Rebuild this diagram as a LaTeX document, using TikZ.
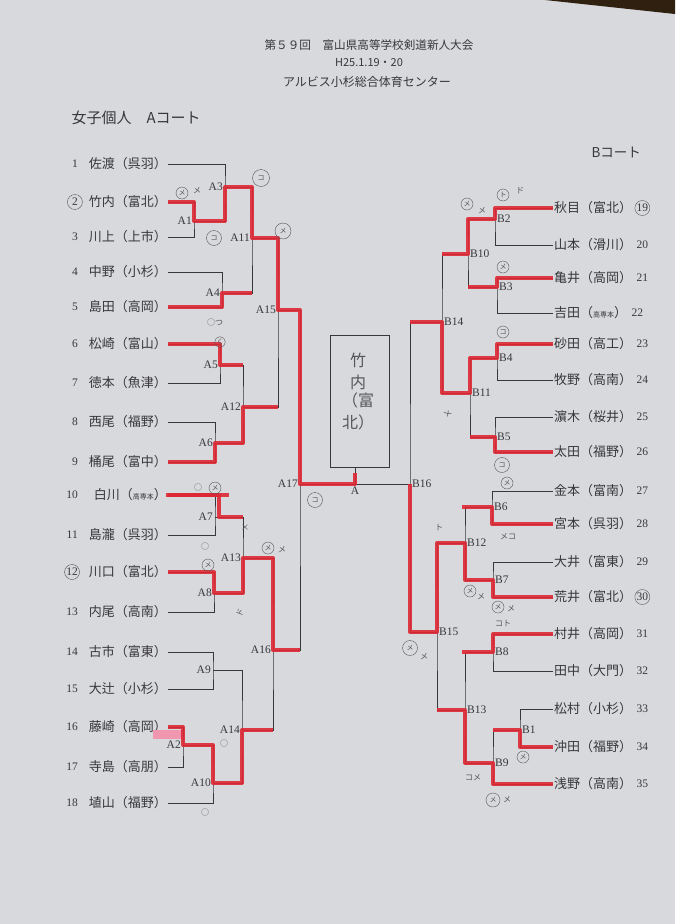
\documentclass[tikz,border=0pt]{standalone}
\usepackage{fontspec}
\setmainfont{Liberation Serif}
\newfontfamily\jp{Noto Sans CJK JP}
\usepackage{tikz}
\definecolor{paper}{RGB}{216,217,220}
\definecolor{ink}{RGB}{55,55,60}
\definecolor{pencil}{RGB}{85,85,90}
\definecolor{marker}{RGB}{222,40,52}
\definecolor{pinkmark}{RGB}{240,150,175}
\tikzset{bline/.style={draw=ink, line width=0.6pt},
  win/.style={draw=marker, line width=4pt, opacity=0.9, line join=round},
  entry/.style={font=\jp\fontsize{13}{14}\selectfont, text=ink, inner sep=1pt},
  num/.style={font=\fontsize{11.5}{12}\selectfont, text=ink, inner sep=1pt},
  mlab/.style={font=\fontsize{11.5}{12}\selectfont, text=ink, inner sep=1pt},
  head/.style={font=\jp\fontsize{11.6}{13}\selectfont, text=ink},
  note/.style={font=\jp\fontsize{8}{9}\selectfont, text=pencil, inner sep=0pt},
  pmark/.style={circle, draw=pencil, thin, inner sep=0.5pt, minimum size=12pt,
    font=\jp\fontsize{7}{7}\selectfont, text=pencil}
}
\begin{document}
\begin{tikzpicture}[x=1pt,y=-1pt]
    \fill[paper] (0,0) rectangle (675,924);
    \useasboundingbox (0,0) rectangle (675,924);
    \fill[black!75!brown] (545,0) -- (675,0) -- (675,14) -- cycle;
    % heading
    \node[head] (title) at (369,45) {第５９回　富山県高等学校剣道新人大会};
    \node[head, font=\jp\fontsize{11}{12}\selectfont] (date) at (369,63) {H25.1.19・20};
    \node[head, font=\jp\fontsize{12}{13}\selectfont] (hall) at (367,82) {アルビス小杉総合体育センター};
    \node[head, font=\jp\fontsize{15}{16}\selectfont, anchor=west] (courtA) at (68,118) {女子個人　Aコート};
    \node[head, font=\jp\fontsize{13.5}{14}\selectfont, anchor=west] (courtB) at (588,152) {Bコート};
    % entries
    \foreach \i/\y/\t in {1/164/佐渡（呉羽）, 2/202/竹内（富北）, 3/237/川上（上市）,
        4/272/中野（小杉）, 5/307/島田（高岡）, 6/344/松崎（富山）, 7/383/徳本（魚津）,
        8/422/西尾（福野）, 9/462/桶尾（富中）, 10/495/{白川（{\fontsize{7}{8}\selectfont 高専本}）},
        11/535/島瀧（呉羽）, 12/572/川口（富北）, 13/612/内尾（高南）, 14/652/古市（富東）,
        15/689/大辻（小杉）, 16/727/藤崎（高岡）, 17/767/寺島（高朋）, 18/803/埴山（福野）} {
      \node[entry, anchor=east] (l\i) at (168,\y) {\t};
      \node[num, anchor=east] (n\i) at (79,\y) {\i};
    }
    \foreach \i/\y/\t in {19/208/秋目（富北）, 20/245/山本（滑川）, 21/278/亀井（高岡）,
        22/313/{吉田（{\fontsize{7}{8}\selectfont 高専本}）}, 23/344/砂田（高工）, 24/380/牧野（高南）,
        25/417/濵木（桜井）, 26/452/太田（福野）, 27/491/金本（富南）, 28/524/宮本（呉羽）,
        29/562/大井（富東）, 30/597/荒井（富北）, 31/634/村井（高岡）, 32/671/田中（大門）,
        33/709/松村（小杉）, 34/747/沖田（福野）, 35/784/浅野（高南）} {
      \node[entry, anchor=west] (r\i) at (553,\y) {\t};
      \node[num, anchor=west] (n\i) at ([xshift=2pt]r\i.east) {\i};
    }
    % match points
    \foreach \m/\x/\y in {A1/194/221, A3/225/187, A4/222/293, A11/252/238, A5/220/365,
        A6/215/443, A12/243/407, A15/278/310, A7/215/517, A8/214/593, A13/243/558,
        A9/213/670, A2/183/745, A10/213/783, A14/242/730, A16/273/650, A17/300/484} {
      \coordinate (\m) at (\x,\y);
      \node[mlab, anchor=east] at ([xshift=-1pt]\m) {\m};
    }
    \foreach \m/\x/\y in {B2/495/219, B3/497/287, B10/468/254, B4/497/358, B5/495/437,
        B11/470/393, B14/442/322, B6/492/507, B7/493/580, B12/465/543, B8/493/652,
        B1/520/730, B9/493/763, B13/465/710, B15/437/632, B16/410/484} {
      \coordinate (\m) at (\x,\y);
      \node[mlab, anchor=west] at ([xshift=1pt]\m) {\m};
    }
    \coordinate (fin) at (355,484);
    \node[mlab, anchor=north] at ([yshift=-2pt]fin) {A};
    % champion box
    \node[bline, minimum width=59pt, minimum height=132pt, inner sep=0pt] (champ) at (359.5,401) {};
    \node[note, font=\jp\fontsize{16}{22}\selectfont, align=center] (champname) at (358,392)
      {竹\\内\\[-4pt]（富\\北）};
    % bracket, A court
    \draw[bline] (l1.east) -| (A3) |- (A1);
    \draw[bline] (l2.east) -| (A1) |- (l3.east);
    \draw[bline] (l4.east) -| (A4) |- (l5.east);
    \draw[bline] (A3) -| (A11) |- (A4);
    \draw[bline] (l6.east) -| (A5) |- (l7.east);
    \draw[bline] (l8.east) -| (A6) |- (l9.east);
    \draw[bline] (A5) -| (A12) |- (A6);
    \draw[bline] (A11) -| (A15) |- (A12);
    \draw[bline] (l10.east) -| (A7) |- (l11.east);
    \draw[bline] (l12.east) -| (A8) |- (l13.east);
    \draw[bline] (A7) -| (A13) |- (A8);
    \draw[bline] (l14.east) -| (A9) |- (l15.east);
    \draw[bline] (l16.east) -| (A2) |- (l17.east);
    \draw[bline] (A2) -| (A10) |- (l18.east);
    \draw[bline] (A9) -| (A14) |- (A10);
    \draw[bline] (A13) -| (A16) |- (A14);
    \draw[bline] (A15) -| (A17) |- (A16);
    % bracket, B court
    \draw[bline] (r19.west) -| (B2) |- (r20.west);
    \draw[bline] (r21.west) -| (B3) |- (r22.west);
    \draw[bline] (B2) -| (B10) |- (B3);
    \draw[bline] (r23.west) -| (B4) |- (r24.west);
    \draw[bline] (r25.west) -| (B5) |- (r26.west);
    \draw[bline] (B4) -| (B11) |- (B5);
    \draw[bline] (B10) -| (B14) |- (B11);
    \draw[bline] (r27.west) -| (B6) |- (r28.west);
    \draw[bline] (r29.west) -| (B7) |- (r30.west);
    \draw[bline] (B6) -| (B12) |- (B7);
    \draw[bline] (r31.west) -| (B8) |- (r32.west);
    \draw[bline] (r33.west) -| (B1) |- (r34.west);
    \draw[bline] (B1) -| (B9) |- (r35.west);
    \draw[bline] (B8) -| (B13) |- (B9);
    \draw[bline] (B12) -| (B15) |- (B13);
    \draw[bline] (B14) -| (B16) |- (B15);
    % final
    \draw[bline] (A17) -- (B16);
    \draw[bline] (fin) -- (champ.south -| fin);
    % winners in red
    \fill[pinkmark] (153,730) rectangle (182,739);
    \draw[win] (l2.east) -| (A1) -| (A3) -| (A11) -| (A15) -| (A17) -| (fin) -- ([yshift=-6pt]champ.south -| fin);
    \draw[win] (l5.east) -| (A4) -- (A4 -| A11);
    \draw[win] (l6.east) -| (A5) -- (A5 -| A12);
    \draw[win] (l9.east) -| (A6) -| (A12) -- (A12 -| A15);
    \draw[win] ([xshift=-2pt]l10.east) -- ([xshift=14pt]l10.east -| A7);
    \draw[win] (l10.east) -| ([xshift=4pt]A7) -- (A7 -| A13);
    \draw[win] (l12.east) -| (A8) -| (A13) -| (A16) -- (A16 -| A17);
    \draw[win] (l16.east) -| (A2) -| (A10) -| (A14) -- (A14 -| A16);
    \draw[win] (r19.west) -| (B2) -| (B10) -- (B10 -| B14);
    \draw[win] (r21.west) -| (B3) -- (B3 -| B10);
    \draw[win] (r23.west) -| (B4) -| (B11) -| (B14) -- (B14 -| B16);
    \draw[win] (r26.west) -| (B5) -- (B5 -| B11);
    \draw[win] (r28.west) -| (B6) -- ([xshift=-3pt]B6 -| B12);
    \draw[win] (r30.west) -| (B7) -| (B12) -| (B15) -| (B16);
    \draw[win] (r31.west) -| (B8) -- ([xshift=-3pt]B8 -| B13);
    \draw[win] (r34.west) -| (B1) -- (B1 -| B9);
    \draw[win] (r35.west) -| (B9) -| (B13) -- (B13 -| B15);
    % circled seeds
    \foreach \n in {n2,n12,n19,n30}
      \draw[pencil, thin] (\n) circle [radius=7.5pt];
    % pencil notes, A court
    \node[pmark] at (182,193) {メ};
    \node[note] at (197,191) {メ};
    \node[pmark, minimum size=17pt] at (261,178) {コ};
    \node[pmark, minimum size=15pt] at (214,238) {コ};
    \node[pmark, minimum size=16pt] at (283,231) {メ};
    \node[note] at (215,322) {○つ};
    \node[pmark, minimum size=10pt] at (220,342) {く};
    \node[pmark, minimum size=15pt] at (315,500) {コ};
    \node[note] at (198,487) {○};
    \node[pmark] at (215,488) {メ};
    \node[note] at (245,528) {×};
    \node[note] at (205,546) {○};
    \node[pmark] at (208,565) {メ};
    \node[pmark] at (268,548) {メ};
    \node[note] at (282,550) {メ};
    \node[note, rotate=70] at (240,613) {ド};
    \node[note] at (224,743) {○};
    \node[note] at (205,812) {○};
    % pencil notes, B court
    \node[pmark] at (467,204) {メ};
    \node[note] at (482,211) {メ};
    \node[pmark] at (503,195) {ト};
    \node[note] at (520,191) {ド};
    \node[pmark] at (503,267) {メ};
    \node[pmark] at (503,332) {コ};
    \node[note, rotate=-60] at (448,413) {メ};
    \node[pmark, minimum size=15pt] at (502,465) {コ};
    \node[pmark] at (507,483) {メ};
    \node[note] at (508,537) {メコ};
    \node[note] at (439,528) {ト};
    \node[pmark] at (470,591) {メ};
    \node[note] at (481,597) {メ};
    \node[pmark] at (498,607) {メ};
    \node[note] at (511,609) {メ};
    \node[note] at (503,624) {コト};
    \node[pmark, minimum size=15pt] at (410,648) {メ};
    \node[note] at (424,657) {メ};
    \node[pmark] at (523,757) {メ};
    \node[note] at (473,778) {コメ};
    \node[pmark, minimum size=14pt] at (493,800) {メ};
    \node[note] at (507,800) {メ};
\end{tikzpicture}
\end{document}
